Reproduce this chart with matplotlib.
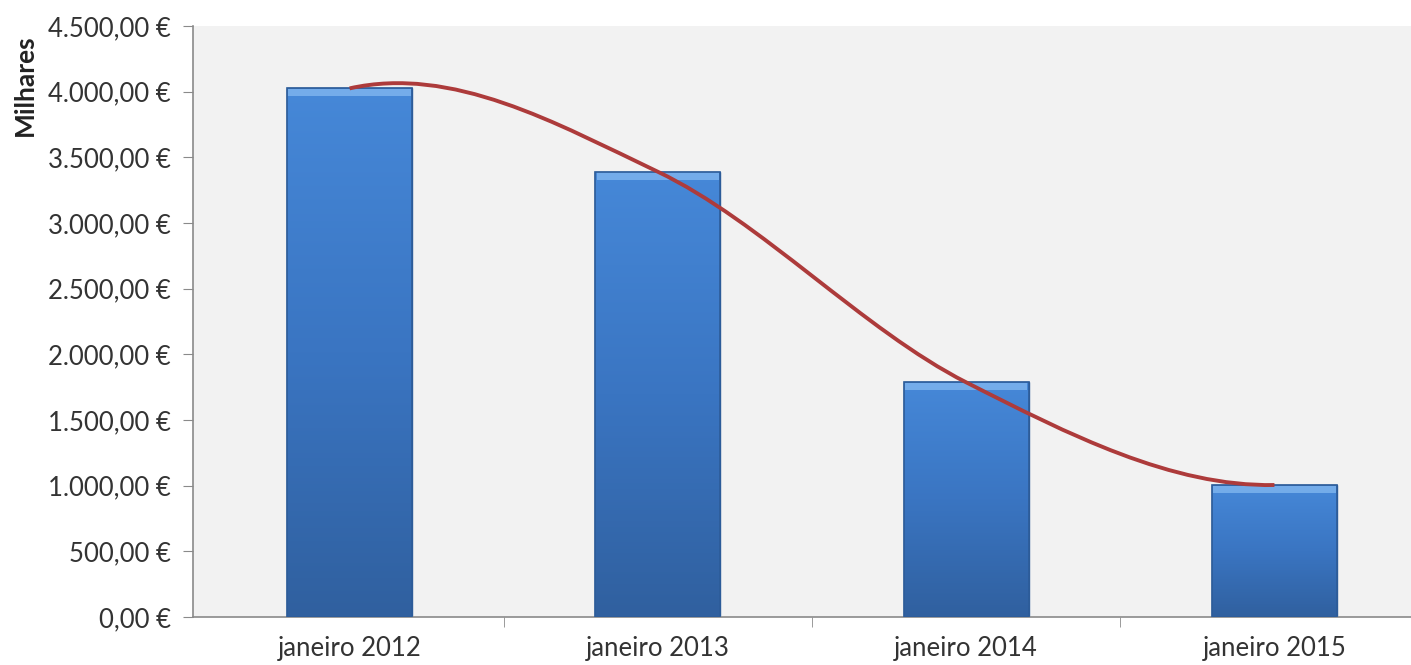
import numpy as np
import matplotlib
matplotlib.use('Agg')
import matplotlib.pyplot as plt
from matplotlib.path import Path
from matplotlib.patches import PathPatch
from matplotlib.colors import LinearSegmentedColormap
from matplotlib.ticker import FuncFormatter, FixedLocator

# dados (milhares de euros)
categorias = ['janeiro 2012', 'janeiro 2013', 'janeiro 2014', 'janeiro 2015']
valores = [4025, 3390, 1787, 1005]
# inclinação da curva suavizada nas pontas
inclinacao_inicio = 525
inclinacao_fim = 40

plt.rcParams['font.family'] = ['Lato', 'DejaVu Sans']

fig = plt.figure(figsize=(14.11, 6.65), dpi=100)
ax = fig.add_axes([193 / 1411, 48 / 665, 1218 / 1411, 591 / 665])
ax.set_facecolor('#f2f2f2')

x = np.arange(len(valores))
barras = ax.bar(x, valores, width=0.405, color='#3c78c6', edgecolor='#2d5c99',
                linewidth=1, zorder=2)

# degradê vertical nas barras
cmap = LinearSegmentedColormap.from_list('azul', ['#30609f', '#3a75c2', '#4688d8'])
for b in barras:
    x0, y0 = b.get_x(), b.get_y()
    w, h = b.get_width(), b.get_height()
    grad = np.linspace(0, 1, 256).reshape(-1, 1)
    im = ax.imshow(grad, cmap=cmap, origin='lower', aspect='auto',
                   extent=[x0, x0 + w, y0, y0 + h], zorder=3)
    im.set_clip_path(b)
    # faixa clara no topo
    ax.fill_between([x0 + 0.004, x0 + w - 0.004], y0 + h - 60, y0 + h - 5,
                    color='#80b6ef', alpha=0.8, linewidth=0, zorder=4)
    ax.add_patch(plt.Rectangle((x0, y0), w, h, fill=False, edgecolor='#2d5c99',
                               linewidth=1.2, zorder=5))

# linha suavizada (bezier, como no Excel)
y = np.array(valores, dtype=float)
tang = np.zeros(len(y))
tang[0] = inclinacao_inicio
tang[-1] = inclinacao_fim
tang[1:-1] = (y[2:] - y[:-2]) / 2
verts = [(x[0], y[0])]
codes = [Path.MOVETO]
for i in range(len(y) - 1):
    verts += [(x[i] + 1 / 3, y[i] + tang[i] / 3),
              (x[i + 1] - 1 / 3, y[i + 1] - tang[i + 1] / 3),
              (x[i + 1], y[i + 1])]
    codes += [Path.CURVE4] * 3
ax.add_patch(PathPatch(Path(verts, codes), fill=False, edgecolor='#ad3b3b',
                       linewidth=2.8, zorder=6, capstyle='butt'))

ax.set_xlim(-0.508, 3.443)
ax.set_ylim(0, 4500)
ax.set_yticks(np.arange(0, 4501, 500))
ax.yaxis.set_major_formatter(FuncFormatter(
    lambda v, p: '{:,.2f} €'.format(v).replace(',', 'X').replace('.', ',').replace('X', '.')))
ax.set_xticks(x)
ax.set_xticklabels(categorias)
ax.xaxis.set_minor_locator(FixedLocator([0.5, 1.5, 2.5]))

for s in ['top', 'right']:
    ax.spines[s].set_visible(False)
for s in ['left', 'bottom']:
    ax.spines[s].set_color('#8a8a8a')
    ax.spines[s].set_linewidth(1.2)
ax.tick_params(axis='y', length=7, color='#8a8a8a', labelsize=18.5, labelcolor='#333333', pad=9)
ax.tick_params(axis='x', which='major', length=0, labelsize=18.5, labelcolor='#333333', pad=14)
ax.tick_params(axis='x', which='minor', length=7, color='#8a8a8a')

fig.text(25 / 1411, 1 - 85 / 665, 'Milhares', rotation=90, ha='center', va='center',
         fontsize=19, fontweight='bold', color='#222222')

fig.savefig('out.png', dpi=100)
